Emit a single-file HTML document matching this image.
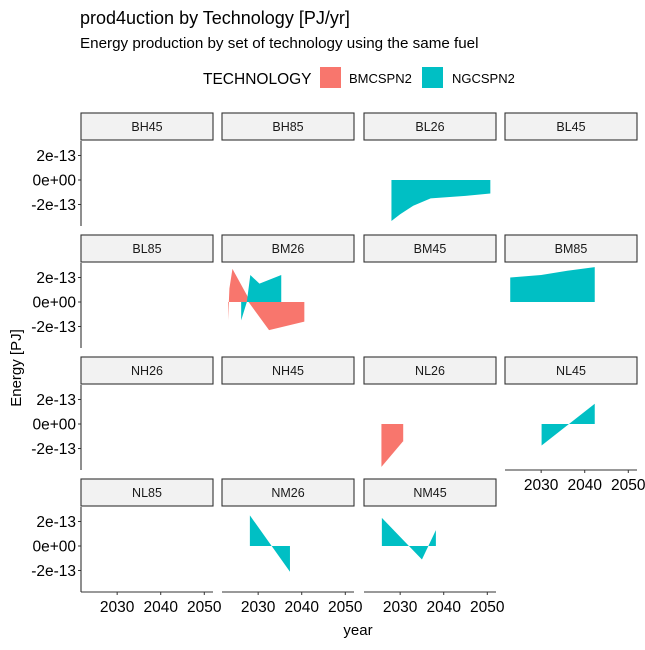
<!DOCTYPE html>
<html><head><meta charset="utf-8"><style>
body{margin:0;background:#fff;font-family:"Liberation Sans",Arial,sans-serif}
svg text{font-family:"Liberation Sans",Arial,sans-serif}
</style></head><body>
<svg width="645" height="645" xmlns="http://www.w3.org/2000/svg">
<rect width="645" height="645" fill="#fff"/>
<text x="80" y="24" font-size="18" fill="#000">prod4uction by Technology [PJ/yr]</text>
<text x="80" y="48" font-size="15.2" fill="#000">Energy production by set of technology using the same fuel</text>
<g>
<text x="203" y="84" font-size="15.5">TECHNOLOGY</text>
<rect x="320" y="67" width="21" height="21" fill="#F8766D"/>
<text x="349" y="83" font-size="13">BMCSPN2</text>
<rect x="422" y="67" width="21" height="21" fill="#00BFC4"/>
<text x="452" y="83" font-size="13">NGCSPN2</text>
</g>
<text transform="translate(21,368) rotate(-90)" text-anchor="middle" font-size="15">Energy [PJ]</text>
<text x="358" y="635" text-anchor="middle" font-size="15">year</text>
<g id="panels"></g>
</svg>
<script>
const panelNames = ["BH45","BH85","BL26","BL45","BL85","BM26","BM45","BM85","NH26","NH45","NL26","NL45","NL85","NM26","NM45"];
const yTicks = [2, 0, -2];
const yTickLabels = ["2e-13","0e+00","-2e-13"];
const xTicks = [2030, 2040, 2050];
// series values in units of 1e-13 PJ: [year, value]
const bl26Ngc = [[2028,-3.35],[2030,-2.8],[2033,-2.1],[2037,-1.5],[2045,-1.3],[2050.7,-1.1]];
const bm26Bmc = [[2023.1,-1.5],[2023.4,1.1],[2024.1,2.7],[2027.5,0.5],[2027.8,0],[2032.5,-2.3],[2040.6,-1.6]];
const bm26Ngc = [[2026.1,-1.5],[2027.4,0],[2028.2,2.2],[2030.3,1.5],[2035.3,2.2]];
const bm85Ngc = [[2022.9,2.0],[2030,2.2],[2036,2.55],[2042.3,2.85]];
const nl26Bmc = [[2025.7,-3.5],[2030.7,-1.4]];
const nl45Ngc = [[2030.1,-1.75],[2042.3,1.65]];
const nm26Ngc = [[2028.1,2.5],[2037.3,-2.1]];
const nm45Ngc = [[2025.8,2.3],[2035,-1.1],[2038.2,1.3]];
const seriesByPanel = {BL26:[["NGCSPN2",bl26Ngc]],BM26:[["BMCSPN2",bm26Bmc],["NGCSPN2",bm26Ngc]],BM85:[["NGCSPN2",bm85Ngc]],NL26:[["BMCSPN2",nl26Bmc]],NL45:[["NGCSPN2",nl45Ngc]],NM26:[["NGCSPN2",nm26Ngc]],NM45:[["NGCSPN2",nm45Ngc]]};
const colors = {BMCSPN2:"#F8766D",NGCSPN2:"#00BFC4"};
const NS="http://www.w3.org/2000/svg";
const g=document.getElementById("panels");
const colX=[81,222,364,505], PW=132, rowY=[113,235,357,479], SH=28, PH=85;
const xMin=2021.7, xMax=2052;
function mk(t,a){const e=document.createElementNS(NS,t);for(const k in a)e.setAttribute(k,a[k]);g.appendChild(e);return e;}
panelNames.forEach((nm,i)=>{
  const c=i%4, r=Math.floor(i/4);
  const x0=colX[c], sy=rowY[r], py=sy+SH;
  const xs=v=>x0+(v-xMin)/(xMax-xMin)*PW;
  const ys=v=>py+39-v*12.25;
  const s=mk("rect",{x:x0,y:sy,width:PW,height:SH-1,fill:"#F2F2F2",stroke:"#333","stroke-width":1.1});
  
  
  const t=mk("text",{x:x0+PW/2,y:sy+18,"text-anchor":"middle","font-size":"12.5",fill:"#1a1a1a"});t.textContent=nm;
  
  
  (seriesByPanel[nm]||[]).forEach(([tech,pts])=>{
    let d="M"+xs(pts[0][0])+","+ys(0);
    pts.forEach(p=>d+="L"+xs(p[0])+","+ys(p[1]));
    d+="L"+xs(pts[pts.length-1][0])+","+ys(0)+"Z";
    const p=mk("path",{d:d,fill:colors[tech]});
    
    
  });
  if(c===0){
    const a=mk("line",{x1:x0,y1:py,x2:x0,y2:py+PH,stroke:"#333","stroke-width":1.1});
    
    
    yTicks.forEach((v,k)=>{
      mk("line",{x1:x0-3,y1:ys(v),x2:x0,y2:ys(v),stroke:"#333"});
      const l=mk("text",{x:x0-5,y:ys(v)+5.5,"text-anchor":"end","font-size":"15.5",fill:"#000"});l.textContent=yTickLabels[k];
      
      
    });
  }
  if(r===3||(r===2&&c===3)){
    const by=py+PH;
    const a=mk("line",{x1:x0,y1:by,x2:x0+PW,y2:by,stroke:"#333","stroke-width":1.1});
    
    
    xTicks.forEach(v=>{
      mk("line",{x1:xs(v),y1:by,x2:xs(v),y2:by+3,stroke:"#333"});
      const l=mk("text",{x:xs(v),y:by+20,"text-anchor":"middle","font-size":"15.5",fill:"#000"});l.textContent=v;
      
      
    });
  }
});
</script>
</body></html>
